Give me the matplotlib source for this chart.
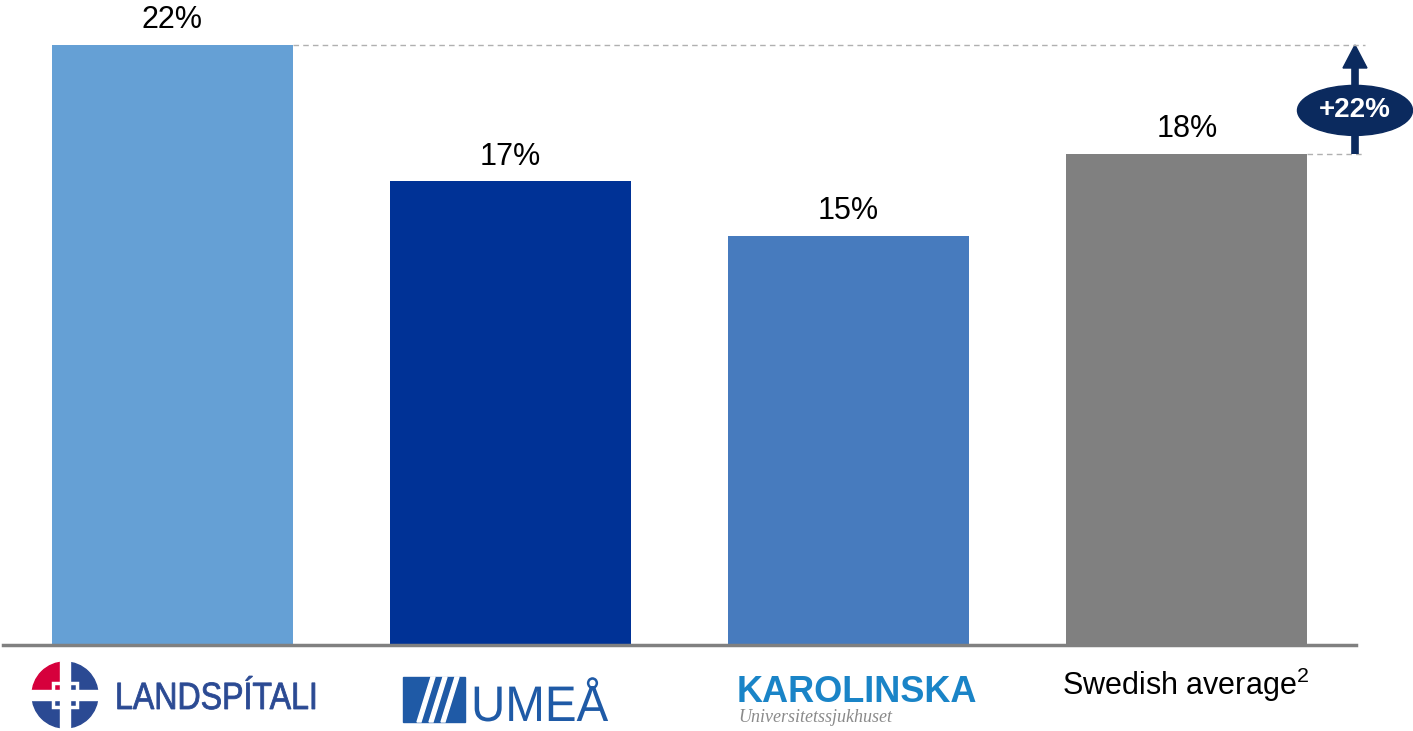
import matplotlib.pyplot as plt
from matplotlib.patches import Ellipse, Wedge, Rectangle, Polygon, PathPatch
from matplotlib.textpath import TextPath
from matplotlib.font_manager import FontProperties
from matplotlib.transforms import Affine2D

plt.rcParams['font.family'] = ['Liberation Sans', 'DejaVu Sans']
plt.rcParams['mathtext.fontset'] = 'custom'
plt.rcParams['mathtext.rm'] = 'Liberation Sans'

# data
categories = ['Landspítali', 'Umeå', 'Karolinska', 'Swedish average']
values = [22, 17, 15, 18]
value_labels = ['22%', '17%', '15%', '18%']
bar_colors = ['#65A0D5', '#003296', '#477BBE', '#808080']
diff_label = '+22%'

navy = '#0B2A5E'
W, H = 1413, 731
px_x = 338.25   # pixels per x unit
px_y = 27.25    # pixels per y unit

fig = plt.figure(figsize=(W / 100, H / 100), dpi=100)
ax = fig.add_axes([3 / W, (H - 644.5) / H, 1353 / W, 644.5 / H])

x = list(range(len(categories)))
bw = 0.713
ax.bar(x, values, width=bw, color=bar_colors)
ax.set_xlim(-0.5, 3.5)
ax.set_ylim(0, 644.5 / px_y)

for xi, v, lab in zip(x, values, value_labels):
    ax.annotate(lab, (xi, v), xytext=(0, 7), textcoords='offset points',
                ha='center', va='bottom', fontsize=22, color='black')

for s in ['top', 'left', 'right']:
    ax.spines[s].set_visible(False)
ax.spines['bottom'].set_color('#808080')
ax.spines['bottom'].set_linewidth(2.5)
ax.set_xticks([])
ax.set_yticks([])

# dashed reference lines and difference arrow
xa = 3.497
ax.plot([x[0] + bw / 2, 3.527], [values[0], values[0]], ls=(0, (4, 3)),
        color='#B0B0B0', lw=1, clip_on=False)
ax.plot([x[3] + bw / 2, 3.527], [values[3], values[3]], ls=(0, (4, 3)),
        color='#B0B0B0', lw=1, clip_on=False)
head_w = 12 / px_x
head_h = 23 / px_y
ax.plot([xa, xa], [values[3], values[0] - head_h], color=navy, lw=5.5,
        solid_capstyle='butt', clip_on=False)
ax.add_patch(Polygon([(xa - head_w, values[0] - head_h), (xa + head_w, values[0] - head_h),
                      (xa, values[0])], color=navy, clip_on=False))
ymid = (values[0] + values[3]) / 2 - 0.4
ax.add_patch(Ellipse((xa, ymid), 115 / px_x, 50 / px_y, color=navy,
                     clip_on=False, zorder=5))
ax.text(xa, ymid, diff_label, ha='center', va='center', color='white',
        fontsize=20, fontweight='bold', zorder=6)

# overlay in pixel coordinates for the logos
ov = fig.add_axes([0, 0, 1, 1])
ov.set_xlim(0, W)
ov.set_ylim(H, 0)
ov.axis('off')

# Landspítali logo
blue_l = '#2B4A93'
cx, cy, r = 65, 695, 33
for a0, col in [(0, blue_l), (180, '#D6003C'), (90, blue_l), (270, blue_l)]:
    # y axis is flipped, so angle 180-270 is drawn at upper left
    ov.add_patch(Wedge((cx, cy), r, a0, a0 + 90, color=col))
ov.add_patch(Rectangle((cx - r - 1, cy - 5), 2 * r + 2, 10, color='white'))
ov.add_patch(Rectangle((cx - 5, cy - r - 1), 10, 2 * r + 2, color='white'))
ov.add_patch(Rectangle((cx - 12, cy - 12), 24, 24, fill=False, ec='white', lw=2.5))
tp = TextPath((0, 0), 'LANDSPÍTALI', size=38,
              prop=FontProperties(family='Liberation Sans'))
ov.add_patch(PathPatch(tp, fc=blue_l, ec=blue_l, lw=0.6,
                       transform=Affine2D().scale(0.845, -1).translate(115, 709) + ov.transData))

# Umeå logo
blue_u = '#1F5AA6'
ov.add_patch(Rectangle((403, 677), 62, 45, color=blue_u))
for dx in [14, 26, 38]:
    ov.add_patch(Polygon([(dx + 403, 722), (dx + 407, 722), (dx + 421, 677), (dx + 417, 677)],
                         color='white'))
tp = TextPath((0, 0), 'UMEÅ', size=50, prop=FontProperties(family='Liberation Sans'))
ov.add_patch(PathPatch(tp, color=blue_u, lw=0,
                       transform=Affine2D().scale(0.95, -1).translate(471, 721) + ov.transData))

# Karolinska logo
ov.text(737, 693, 'KAROLINSKA', ha='left', va='center',
        fontsize=26, fontweight='bold', color='#1A84C7')
ov.text(738, 718, 'Universitetssjukhuset', ha='left',
        va='center', fontsize=13, style='italic', color='#8A8A8A',
        family='Liberation Serif')

ov.text(1186, 685, 'Swedish average$^{2}$', ha='center',
        va='center', fontsize=22, color='black')

fig.savefig('out.png', dpi=100)
